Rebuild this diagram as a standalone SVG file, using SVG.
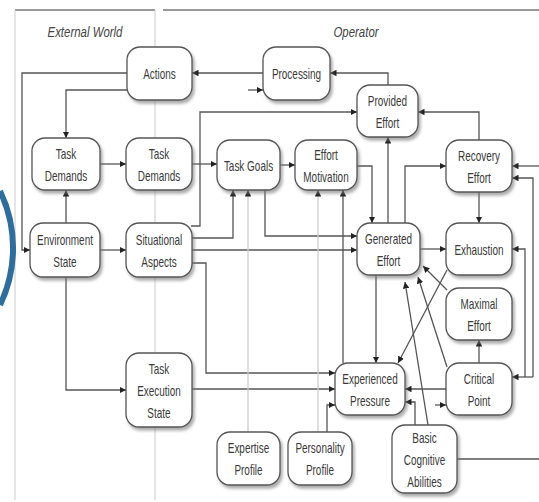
<svg xmlns="http://www.w3.org/2000/svg" width="539" height="502" viewBox="0 0 539 502">
<defs>
<marker id="a" viewBox="0 0 10 10" refX="10" refY="5" markerWidth="6.5" markerHeight="6.5" markerUnits="userSpaceOnUse" orient="auto"><path d="M0,0 L10,5 L0,10 z" fill="#222"/></marker>
<filter id="sh" x="-20%" y="-20%" width="150%" height="150%"><feDropShadow dx="2" dy="3" stdDeviation="1.5" flood-color="#777" flood-opacity="0.6"/></filter>
<style>
.n rect{fill:#fff;stroke:#555;stroke-width:1.3;filter:url(#sh)}
.t{font-family:"Liberation Sans",Arial,sans-serif;font-size:12px;fill:#3a3a3a;text-anchor:middle}
.h{font-family:"Liberation Sans",Arial,sans-serif;font-size:13px;font-style:italic;fill:#444;text-anchor:middle}
.c path{fill:none;stroke:#555;stroke-width:1.3;marker-end:url(#a)}
.c path.f{stroke:#ccc}
.c path.nm{marker-end:none}
.fr{stroke:#777;stroke-width:1.5;fill:none}
.fl{stroke:#ccc;stroke-width:1;fill:none}
</style>
</defs>
<rect width="539" height="502" fill="#fff"/>
<g id="frames">
<path class="fr" d="M15,10 H155 M163,10 H539"/>
<path class="fl" d="M15,10 V500 M155,10 V500"/>
<path d="M0,191 A131,131 0 0 1 0,305" fill="none" stroke="#2e6d9c" stroke-width="6"/>
<text class="h" transform="translate(85,37) scale(0.88,1.18)">External World</text>
<text class="h" transform="translate(356,37) scale(0.88,1.18)">Operator</text>
</g>
<g id="connectors" class="c">
<path d="M263,73 H192"/>
<path d="M388,85 V73 H330"/>
<path d="M248,90 H263"/>
<path d="M127,73 H22 V250 H30"/>
<path d="M127,90 H66 V138"/>
<path d="M100,164 H126"/>
<path d="M192,164 H217"/>
<path d="M280,165 H295"/>
<path d="M66,223 V190"/>
<path d="M100,250 H126"/>
<path d="M66,277 V390 H126"/>
<path d="M191,226 H200 V112 H357"/>
<path d="M192,238 H233 V190"/>
<path d="M192,250 H357"/>
<path d="M192,263 H206 V373 H335"/>
<path d="M192,389 H335"/>
<path d="M327,432 V405 H335"/>
<path d="M265,190 V236 H357"/>
<path class="f" d="M248,432 V190"/>
<path class="f" d="M318,432 V190"/>
<path d="M343,363 V190"/>
<path d="M357,166 H372 V223"/>
<path d="M388,223 V137"/>
<path d="M479,140 V112 H418"/>
<path d="M405,223 V166 H446"/>
<path d="M479,192 V223"/>
<path d="M420,249 H446"/>
<path class="nm" d="M457,459 H539"/>
<path d="M539,166 H512"/>
<path d="M533,377 V178 H512"/>
<path d="M525,377 V249 H512"/>
<path d="M533,377 H512"/>
<path d="M479,363 V340"/>
<path d="M446,389 H405"/>
<path d="M435,405 H446"/>
<path d="M447,290 L423,266"/>
<path d="M447,270 L398,363"/>
<path d="M376,275 V363"/>
<path d="M428,425 L405,282"/>
<path d="M447,367 L418,277"/>
<path d="M415,425 V402 H405"/>
</g>
<g id="actions" class="n"><rect x="127" y="47" width="65" height="53" rx="13"/><text class="t" transform="translate(159.5,79) scale(0.83,1.28)">Actions</text></g>
<g id="processing" class="n"><rect x="263" y="47" width="67" height="53" rx="13"/><text class="t" transform="translate(296.5,79) scale(0.83,1.28)">Processing</text></g>
<g id="provided-effort" class="n"><rect x="357" y="85" width="61" height="52" rx="13"/><text class="t" transform="translate(387.5,105.5) scale(0.83,1.28)">Provided</text><text class="t" transform="translate(387.5,127.5) scale(0.83,1.28)">Effort</text></g>
<g id="task-demands-ext" class="n"><rect x="32" y="138" width="68" height="52" rx="13"/><text class="t" transform="translate(66,158.5) scale(0.83,1.28)">Task</text><text class="t" transform="translate(66,180.5) scale(0.83,1.28)">Demands</text></g>
<g id="task-demands-op" class="n"><rect x="126" y="138" width="66" height="52" rx="13"/><text class="t" transform="translate(159,158.5) scale(0.83,1.28)">Task</text><text class="t" transform="translate(159,180.5) scale(0.83,1.28)">Demands</text></g>
<g id="task-goals" class="n"><rect x="217" y="140" width="63" height="50" rx="13"/><text class="t" transform="translate(248.5,170.5) scale(0.83,1.28)">Task Goals</text></g>
<g id="effort-motivation" class="n"><rect x="295" y="140" width="62" height="50" rx="13"/><text class="t" transform="translate(326,159.5) scale(0.83,1.28)">Effort</text><text class="t" transform="translate(326,181.5) scale(0.83,1.28)">Motivation</text></g>
<g id="recovery-effort" class="n"><rect x="446" y="140" width="66" height="52" rx="13"/><text class="t" transform="translate(479,160.5) scale(0.83,1.28)">Recovery</text><text class="t" transform="translate(479,182.5) scale(0.83,1.28)">Effort</text></g>
<g id="environment-state" class="n"><rect x="30" y="223" width="70" height="54" rx="13"/><text class="t" transform="translate(65,244.5) scale(0.83,1.28)">Environment</text><text class="t" transform="translate(65,266.5) scale(0.83,1.28)">State</text></g>
<g id="situational-aspects" class="n"><rect x="126" y="223" width="66" height="54" rx="13"/><text class="t" transform="translate(159,244.5) scale(0.83,1.28)">Situational</text><text class="t" transform="translate(159,266.5) scale(0.83,1.28)">Aspects</text></g>
<g id="generated-effort" class="n"><rect x="357" y="223" width="63" height="52" rx="13"/><text class="t" transform="translate(388.5,243.5) scale(0.83,1.28)">Generated</text><text class="t" transform="translate(388.5,265.5) scale(0.83,1.28)">Effort</text></g>
<g id="exhaustion" class="n"><rect x="446" y="223" width="66" height="52" rx="13"/><text class="t" transform="translate(479,254.5) scale(0.83,1.28)">Exhaustion</text></g>
<g id="maximal-effort" class="n"><rect x="446" y="288" width="66" height="52" rx="13"/><text class="t" transform="translate(479,308.5) scale(0.83,1.28)">Maximal</text><text class="t" transform="translate(479,330.5) scale(0.83,1.28)">Effort</text></g>
<g id="critical-point" class="n"><rect x="446" y="363" width="66" height="52" rx="13"/><text class="t" transform="translate(479,383.5) scale(0.83,1.28)">Critical</text><text class="t" transform="translate(479,405.5) scale(0.83,1.28)">Point</text></g>
<g id="experienced-pressure" class="n"><rect x="335" y="363" width="70" height="52" rx="13"/><text class="t" transform="translate(370,383.5) scale(0.83,1.28)">Experienced</text><text class="t" transform="translate(370,405.5) scale(0.83,1.28)">Pressure</text></g>
<g id="task-execution-state" class="n"><rect x="126" y="353" width="66" height="74" rx="13"/><text class="t" transform="translate(159,373.5) scale(0.83,1.28)">Task</text><text class="t" transform="translate(159,395.5) scale(0.83,1.28)">Execution</text><text class="t" transform="translate(159,417.5) scale(0.83,1.28)">State</text></g>
<g id="expertise-profile" class="n"><rect x="217" y="432" width="63" height="53" rx="13"/><text class="t" transform="translate(248.5,453) scale(0.83,1.28)">Expertise</text><text class="t" transform="translate(248.5,475) scale(0.83,1.28)">Profile</text></g>
<g id="personality-profile" class="n"><rect x="288" y="432" width="64" height="53" rx="13"/><text class="t" transform="translate(320,453) scale(0.83,1.28)">Personality</text><text class="t" transform="translate(320,475) scale(0.83,1.28)">Profile</text></g>
<g id="basic-cognitive-abilities" class="n"><rect x="392" y="425" width="65" height="68" rx="13"/><text class="t" transform="translate(424.5,442.5) scale(0.83,1.28)">Basic</text><text class="t" transform="translate(424.5,464.5) scale(0.83,1.28)">Cognitive</text><text class="t" transform="translate(424.5,486.5) scale(0.83,1.28)">Abilities</text></g>
</svg>
